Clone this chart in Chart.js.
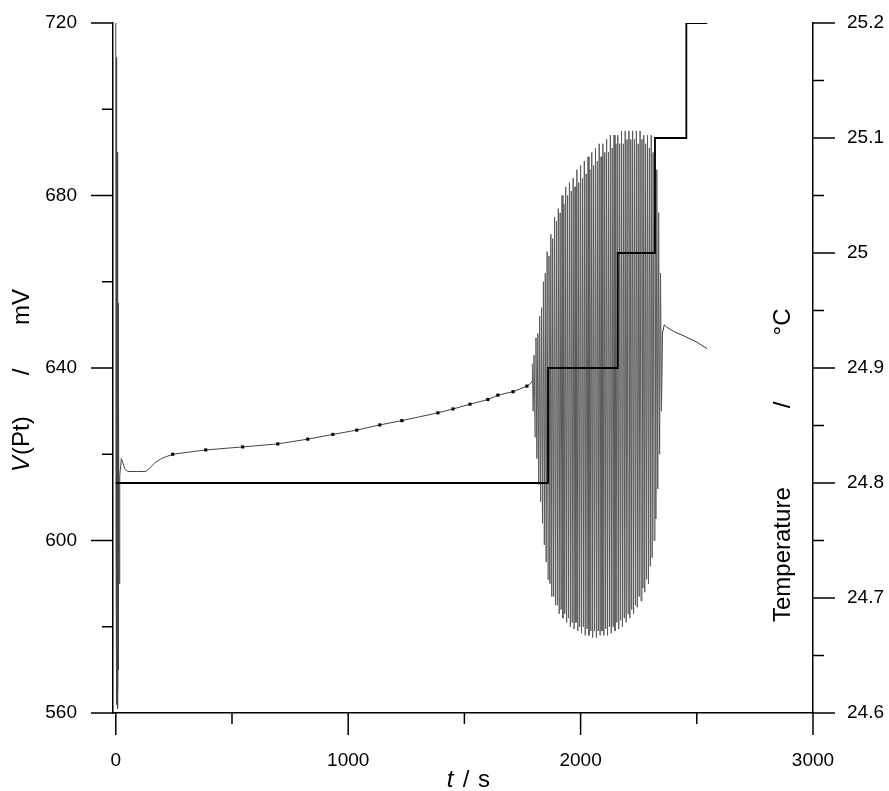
<!DOCTYPE html>
<html><head><meta charset="utf-8">
<script src="https://cdn.jsdelivr.net/npm/chart.js@4.4.0/dist/chart.umd.min.js"></script>
<style>html,body{margin:0;padding:0;background:#fff;}#wrap{width:889px;height:791px;position:relative;}</style>
</head><body><div id="wrap"><canvas id="c" width="889" height="791"></canvas></div>
<script>
// ---- data ----
// V(Pt) before the oscillations (t in s, V in mV)
const preTimes  = [0,1,2,3,4,5,6,7,8,9,10,11,12,14,17,24,30,40,52,90,129,146,168,196,245,387,546,697,826,934,1037,1136,1231,1386,1451,1524,1601,1644,1709,1769,1785,1792];
const preValues = [720,600,700,565,712,562,690,561,670,565,655,570,640,590,615,619,618,616.5,616,616,616,616.8,618,619,620,621,621.7,622.4,623.5,624.6,625.6,626.8,627.8,629.6,630.5,631.6,632.7,633.7,634.5,635.8,636.4,637];
// oscillation maxima and minima
const peakTimes = [1792,1800,1808,1816,1824,1832,1840,1848,1856,1864,1872,1880,1888,1896,1904,1912,1920,1928,1936,1944,1952,1960,1968,1976,1984,1992,2000,2008,2016,2024,2032,2040,2048,2056,2064,2072,2080,2088,2096,2104,2112,2120,2128,2136,2144,2152,2160,2168,2176,2184,2192,2200,2208,2216,2224,2232,2240,2248,2256,2264,2272,2280,2288,2296,2304,2312,2320,2328,2336,2344];
const peakValues = [641,643,647,648,652,654,660,662,667,666,671,670,675,674,677,676,680,678,682,680,683,681,684,682,686,683,687,684,688,685,689,686,690,687,691,688,692,689,692,690,693,690,694,691,694,692,694,692,695,692,695,693,695,693,695,693,695,692,695,693,694,692,694,691,694,690,693,686,676,662];
const troughTimes = [1796,1804,1812,1820,1828,1836,1844,1852,1860,1868,1876,1884,1892,1900,1908,1916,1924,1932,1940,1948,1956,1964,1972,1980,1988,1996,2004,2012,2020,2028,2036,2044,2052,2060,2068,2076,2084,2092,2100,2108,2116,2124,2132,2140,2148,2156,2164,2172,2180,2188,2196,2204,2212,2220,2228,2236,2244,2252,2260,2268,2276,2284,2292,2300,2308,2316,2324,2332,2340,2348];
const troughValues = [630,624,619,613,609,604,599,595,591,590,587,587,585,585,583,584,582,583,581,582,580,581,579.5,581,579,580,578.5,580,578,579.5,578,579,577.5,579,577.5,579,578,579,578,579.5,578,580,578.5,580,579,581,579.5,581.5,580,582,581,583,582,584,583,585,584.5,587,586,589,588,591,590,594,596,600,605,612,620,630];
// V(Pt) after the oscillations
const postTimes  = [2348,2352,2360,2370,2400,2450,2500,2544];
const postValues = [630,648,650,649.5,648.5,647.3,646,644.5];
// temperature steps (°C)
const tempTimes  = [0,1860,2160,2320,2455,2545];
const tempValues = [24.8,24.9,25.0,25.1,25.2,25.2];
// axes
const xMajor = [0,1000,2000,3000];
const xLabels = ['0','1000','2000','3000'];
const xMinor = [500,1500,2500];
const vMajor = [560,600,640,680,720];
const vLabels = ['560','600','640','680','720'];
const vMinor = [580,620,660,700];
const tMajor = [24.6,24.7,24.8,24.9,25.0,25.1,25.2];
const tLabels = ['24.6','24.7','24.8','24.9','25','25.1','25.2'];
const tMinor = [24.65,24.75,24.85,24.95,25.05,25.15];

// ---- build datasets ----
const pre = preTimes.map((t,i)=>({x:t,y:preValues[i]}));
const osc = [];
peakTimes.forEach((t,i)=>{osc.push({x:t,y:peakValues[i]});osc.push({x:troughTimes[i],y:troughValues[i]});});
const post = postTimes.map((t,i)=>({x:t,y:postValues[i]}));
const temp = tempTimes.map((t,i)=>({x:t,y:tempValues[i]}));

const FONT = "'Liberation Sans', Arial, sans-serif";

function piece(ctx, text, italic, size, x, y, rot, align){
  ctx.save();
  ctx.translate(x, y);
  ctx.rotate(rot);
  ctx.font = (italic?'italic ':'') + size + 'px ' + FONT;
  ctx.textBaseline = 'middle';
  ctx.textAlign = align || 'center';
  ctx.fillStyle = '#000';
  ctx.fillText(text, 0, 0);
  ctx.restore();
}

const decor = {
  id:'decor',
  afterDraw(chart){
    const ctx = chart.ctx, a = chart.chartArea;
    const sx = chart.scales.x, sy = chart.scales.y, st = chart.scales.y2;
    ctx.save();
    ctx.strokeStyle = '#000'; ctx.lineWidth = 1.5;
    const seg=(x1,y1,x2,y2)=>{ctx.beginPath();ctx.moveTo(x1,y1);ctx.lineTo(x2,y2);ctx.stroke();};
    xMajor.forEach(v=>{const p=sx.getPixelForValue(v); seg(p,a.bottom,p,a.bottom+22);});
    xMinor.forEach(v=>{const p=sx.getPixelForValue(v); seg(p,a.bottom,p,a.bottom+11);});
    vMajor.forEach(v=>{const p=sy.getPixelForValue(v); seg(a.left,p,a.left-22,p);});
    vMinor.forEach(v=>{const p=sy.getPixelForValue(v); seg(a.left,p,a.left-11,p);});
    tMajor.forEach(v=>{const p=st.getPixelForValue(v); seg(a.right,p,a.right+22,p);});
    tMinor.forEach(v=>{const p=st.getPixelForValue(v); seg(a.right,p,a.right+11,p);});
    ctx.restore();
    const R = -Math.PI/2, S = 24;
    piece(ctx,'V',true,S,22,472,R,'left');
    piece(ctx,'(Pt)',false,S,22,455,R,'left');
    piece(ctx,'/',false,S,22,372,R,'center');
    piece(ctx,'mV',false,S,22,307,R,'center');
    piece(ctx,'Temperature',false,S,783,622,R,'left');
    piece(ctx,'/',false,S,783,405,R,'center');
    piece(ctx,'°C',false,S,783,322,R,'center');
    piece(ctx,'t',true,S,450,780,0,'center');
    piece(ctx,'/',false,S,466,780,0,'center');
    piece(ctx,'s',false,S,484,780,0,'center');
  }
};

function noPad(s){s.paddingTop=0;s.paddingBottom=0;s.paddingLeft=0;s.paddingRight=0;}

new Chart(document.getElementById('c'), {
  type:'line',
  data:{datasets:[
    {data:temp, yAxisID:'y2', stepped:'before', borderColor:'#000', borderWidth:1.8, pointRadius:0, fill:false},
    {data:pre, yAxisID:'y', borderColor:'#444', borderWidth:1, tension:0,
      pointStyle:'rect', pointBackgroundColor:'#000', pointBorderWidth:0,
      pointRadius:(c)=> (c.raw && c.raw.x>=240 && c.raw.x<=1780) ? 2.2 : 0},
    {data:osc, yAxisID:'y', borderColor:'#5a5a5a', borderWidth:1, pointRadius:0, tension:0},
    {data:post, yAxisID:'y', borderColor:'#333', borderWidth:1, pointRadius:0, tension:0}
  ]},
  options:{
    responsive:false, animation:false, devicePixelRatio:1,
    layout:{padding:{top:23,left:0,right:0,bottom:0}},
    plugins:{legend:{display:false}, tooltip:{enabled:false}},
    scales:{
      x:{type:'linear', min:-12, max:3000,
        afterFit(s){s.height=78;noPad(s);},
        afterBuildTicks(s){s.ticks = xMajor.map(v=>({value:v}));},
        ticks:{padding:36, color:'#000', font:{family:FONT,size:19}, maxRotation:0, autoSkip:false,
          callback:(v,i)=>xLabels[i]},
        grid:{display:false, drawTicks:false},
        border:{display:true, color:'#000', width:1.5}},
      y:{type:'linear', position:'left', min:560, max:720,
        afterFit(s){s.width=113;noPad(s);},
        afterBuildTicks(s){s.ticks = vMajor.map(v=>({value:v}));},
        ticks:{padding:36, color:'#000', font:{family:FONT,size:19}, callback:(v,i)=>vLabels[i]},
        grid:{display:false, drawTicks:false},
        border:{display:true, color:'#000', width:1.5}},
      y2:{type:'linear', position:'right', min:24.6, max:25.2,
        afterFit(s){s.width=76;noPad(s);},
        afterBuildTicks(s){s.ticks = tMajor.map(v=>({value:v}));},
        ticks:{padding:34, color:'#000', font:{family:FONT,size:19}, callback:(v,i)=>tLabels[i]},
        grid:{display:false, drawTicks:false},
        border:{display:true, color:'#000', width:1.5}}
    }
  },
  plugins:[decor]
});
</script></body></html>
